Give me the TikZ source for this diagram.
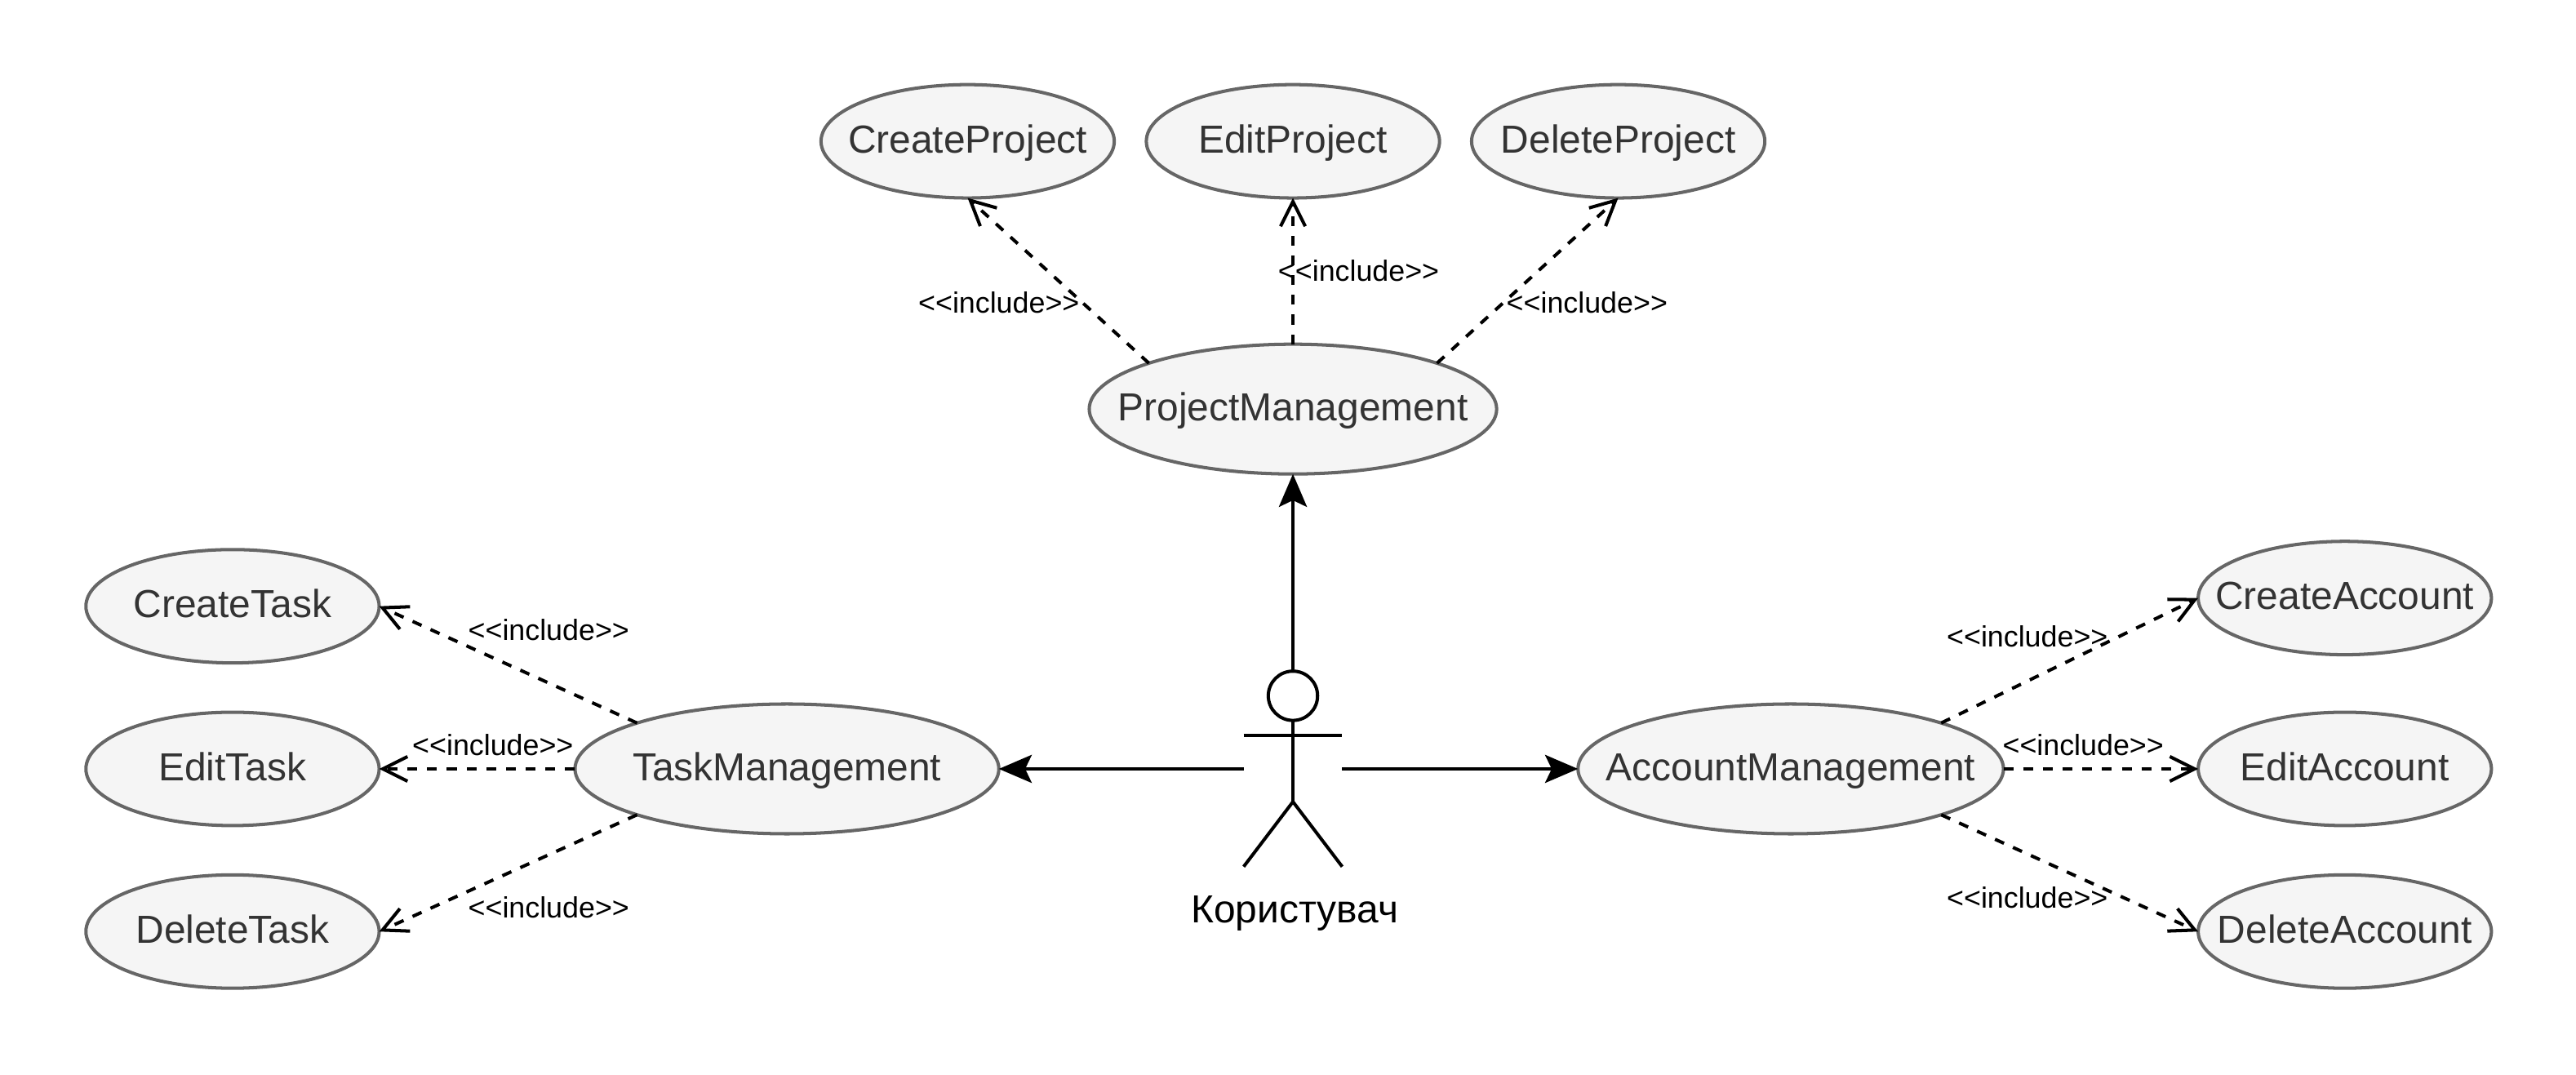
\documentclass[tikz,border=0pt]{standalone}
\usepackage{fontspec}
\setmainfont{Liberation Sans}
\usetikzlibrary{positioning,shapes.geometric,arrows.meta}

\definecolor{casefill}{HTML}{F5F5F5}
\definecolor{caseline}{HTML}{666666}
\definecolor{casetext}{HTML}{333333}
\newcommand{\incl}{<{}<include>{}>}
\newcommand{\casename}[1]{\raisebox{-7pt}[0pt][0pt]{\makebox[0pt]{#1}}}
\tikzset{
  usecase/.style={ellipse,draw=caseline,fill=casefill,text=casetext,line width=2pt,inner sep=0pt,outer sep=0pt,
    minimum width=178.5pt,minimum height=69pt,font=\fontsize{23.8}{28}\selectfont},
  mgmt/.style={usecase,minimum width=258pt,minimum height=79pt},
  inclabel/.style={inner sep=0pt,font=\fontsize{17.8}{21}\selectfont},
  includes/.style={line width=2pt,dash pattern=on 6pt off 6pt,-{Straight Barb[length=15pt,width=15pt]}},
  uses/.style={line width=2pt,-{Stealth[length=20pt,width=17pt,inset=4pt]}},
  figure/.style={line width=2pt}
}

\begin{document}
\begin{tikzpicture}[x=1pt,y=-1pt]
\useasboundingbox (0,0) rectangle (1568,653.9);
\node (projmgmt) [mgmt,minimum width=248pt] at (787,249) {\casename{ProjectManagement}};
\node (projedit) [usecase,above=89pt of projmgmt] {\casename{EditProject}};
\node (projcreate) [usecase,left=19.5pt of projedit] {\casename{CreateProject}};
\node (projdelete) [usecase,right=19.5pt of projedit] {\casename{DeleteProject}};
\node (taskmgmt) [mgmt] at (479,468) {\casename{TaskManagement}};
\node (taskedit) [usecase,left=119.2pt of taskmgmt] {\casename{EditTask}};
\node (taskcreate) [usecase,above=30pt of taskedit] {\casename{CreateTask}};
\node (taskdelete) [usecase,below=30pt of taskedit] {\casename{DeleteTask}};
\node (acctmgmt) [mgmt,minimum width=259pt] at (1090,468) {\casename{AccountManagement}};
\node (acctedit) [usecase,right=118.5pt of acctmgmt] {\casename{EditAccount}};
\node (acctcreate) [usecase,above=35pt of acctedit] {\casename{CreateAccount}};
\node (acctdelete) [usecase,below=30pt of acctedit] {\casename{DeleteAccount}};
\node (head) [circle,draw,figure,fill=white,inner sep=0pt,outer sep=0pt,minimum size=30pt] at (787,423.5) {};
\coordinate (armleft) at (757,447.5);
\coordinate (armright) at (817,447.5);
\coordinate (hip) at (787,488);
\coordinate (footleft) at (757,527.5);
\coordinate (footright) at (817,527.5);
\coordinate (sideleft) at (757,468);
\coordinate (sideright) at (817,468);
\node (actorname) [font=\fontsize{23.8}{28}\selectfont,inner sep=0pt] at (788,556) {Користувач};
\draw[figure](head.south)--(hip);
\draw[figure](armleft)--(armright);
\draw[figure](footleft)--(hip)--(footright);
\draw[uses](head.north)--(projmgmt.south);
\draw[uses](sideleft)--(taskmgmt.east);
\draw[uses](sideright)--(acctmgmt.west);
\draw[includes](projmgmt.north west)--(projcreate.south);
\draw[includes](projmgmt.north)--(projedit.south);
\draw[includes](projmgmt.north east)--(projdelete.south);
\draw[includes](taskmgmt.north west)--(taskcreate.east);
\draw[includes](taskmgmt.west)--(taskedit.east);
\draw[includes](taskmgmt.south west)--(taskdelete.east);
\draw[includes](acctmgmt.north east)--(acctcreate.west);
\draw[includes](acctmgmt.east)--(acctedit.west);
\draw[includes](acctmgmt.south east)--(acctdelete.west);
\node (inclprojcreate) [inclabel] at (608,184.4) {\incl};
\node (inclprojedit) [inclabel] at (827,164.6) {\incl};
\node (inclprojdelete) [inclabel] at (966,184.4) {\incl};
\node (incltaskcreate) [inclabel] at (334,383.3) {\incl};
\node (incltaskedit) [inclabel] at (300,453.3) {\incl};
\node (incltaskdelete) [inclabel] at (334,552.3) {\incl};
\node (inclacctcreate) [inclabel] at (1234,387.3) {\incl};
\node (inclacctedit) [inclabel] at (1268,453.3) {\incl};
\node (inclacctdelete) [inclabel] at (1234,546.3) {\incl};
\end{tikzpicture}
\end{document}
